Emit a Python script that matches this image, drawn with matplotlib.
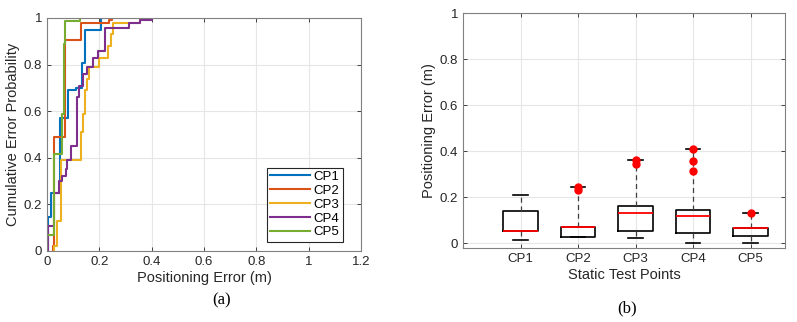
import matplotlib
matplotlib.use("Agg")
import matplotlib.pyplot as plt

plt.rcParams['font.family'] = ['Liberation Sans', 'DejaVu Sans']

# ---- (a) empirical CDF step points: error value at each jump, CDF level after jump
labels = ["CP1", "CP2", "CP3", "CP4", "CP5"]
colors = ["#0072BD", "#D95319", "#EDB120", "#7E2F8E", "#77AC30"]

cp1_x = [0.005, 0.014, 0.050, 0.081, 0.110, 0.133, 0.146, 0.206]
cp1_y = [0.148, 0.248, 0.570, 0.690, 0.700, 0.806, 0.950, 1.0]
cp2_x = [0.022, 0.027, 0.069, 0.130, 0.238, 0.250]
cp2_y = [0.020, 0.490, 0.906, 0.978, 0.990, 1.0]
cp3_x = [0.025, 0.040, 0.053, 0.130, 0.139, 0.146, 0.151, 0.159, 0.200, 0.232, 0.245, 0.252, 0.354]
cp3_y = [0.020, 0.130, 0.390, 0.510, 0.590, 0.690, 0.740, 0.790, 0.830, 0.878, 0.930, 0.977, 1.0]
cp4_x = [0.005, 0.027, 0.044, 0.059, 0.072, 0.078, 0.091, 0.113, 0.123, 0.136, 0.151, 0.174, 0.194, 0.223, 0.315, 0.354, 0.400]
cp4_y = [0.107, 0.250, 0.300, 0.320, 0.350, 0.390, 0.450, 0.660, 0.710, 0.760, 0.790, 0.830, 0.860, 0.957, 0.978, 0.990, 1.0]
cp5_x = [0.000, 0.027, 0.059, 0.063, 0.068, 0.125]
cp5_y = [0.069, 0.415, 0.590, 0.890, 0.985, 1.0]

cdf_x = [cp1_x, cp2_x, cp3_x, cp4_x, cp5_x]
cdf_y = [cp1_y, cp2_y, cp3_y, cp4_y, cp5_y]

# ---- (b) box statistics
box_q1 = [0.052, 0.029, 0.055, 0.043, 0.033]
box_med = [0.052, 0.072, 0.130, 0.117, 0.065]
box_q3 = [0.141, 0.072, 0.162, 0.144, 0.068]
box_lo = [0.013, 0.029, 0.023, 0.003, 0.000]
box_hi = [0.211, 0.246, 0.362, 0.409, 0.131]
box_fliers = [[], [0.245, 0.230], [0.362, 0.343], [0.409, 0.358, 0.315], [0.130]]

AX_COLOR = "#262626"
GRID_COLOR = "#e6e6e6"

fig = plt.figure(figsize=(7.97, 3.22), dpi=100)
ax1 = fig.add_axes([0.059, 0.2205, 0.394, 0.7236])
ax2 = fig.add_axes([0.581, 0.2298, 0.404, 0.7298])

# ========================================
# (a) CDF
# ========================================
for xs, ys, c, lab in zip(cdf_x, cdf_y, colors, labels):
    px = [xs[0]] + xs
    py = [0.0] + ys
    ax1.step(px, py, where="post", color=c, lw=1.5, label=lab)

ax1.set_xlim(0, 1.2)
ax1.set_ylim(0, 1)
ax1.set_xticks([0, 0.2, 0.4, 0.6, 0.8, 1.0, 1.2])
ax1.set_xticklabels(["0", "0.2", "0.4", "0.6", "0.8", "1", "1.2"])
ax1.set_yticks([0, 0.2, 0.4, 0.6, 0.8, 1.0])
ax1.set_yticklabels(["0", "0.2", "0.4", "0.6", "0.8", "1"])
ax1.set_xlabel("Positioning Error (m)", fontsize=10.5, color=AX_COLOR, labelpad=2)
ax1.set_ylabel("Cumulative Error Probability", fontsize=10.5, color=AX_COLOR, labelpad=3)
leg = ax1.legend(loc="lower right", fontsize=9.5, handlelength=3.0, handletextpad=0.3,
                 labelspacing=0.12, borderpad=0.25, borderaxespad=0.0, fancybox=False,
                 framealpha=1, bbox_to_anchor=(0.942, 0.04))
leg.get_frame().set_edgecolor(AX_COLOR)
leg.get_frame().set_linewidth(0.8)

# ========================================
# (b) boxplot
# ========================================
stats = []
for i, lab in enumerate(labels):
    stats.append(dict(label=lab, q1=box_q1[i], med=box_med[i], q3=box_q3[i],
                      whislo=box_lo[i], whishi=box_hi[i], fliers=box_fliers[i]))

ax2.bxp(stats, positions=[1, 2, 3, 4, 5], widths=0.6, capwidths=0.25,
        boxprops=dict(color="black", lw=1.2),
        medianprops=dict(color="red", lw=1.3),
        whiskerprops=dict(color="#404040", lw=0.9, linestyle=(0, (4, 3))),
        capprops=dict(color="black", lw=1.2),
        flierprops=dict(marker="o", markerfacecolor="red", markeredgecolor="red",
                        markersize=5))
ax2.set_xlim(0, 5.6)
ax2.set_ylim(-0.02, 1)
ax2.set_yticks([0, 0.2, 0.4, 0.6, 0.8, 1.0])
ax2.set_yticklabels(["0", "0.2", "0.4", "0.6", "0.8", "1"])
ax2.set_xticks([1, 2, 3, 4, 5])
ax2.set_xticklabels(labels)
ax2.set_xlabel("Static Test Points", fontsize=10.5, color=AX_COLOR, labelpad=2)
ax2.set_ylabel("Positioning Error (m)", fontsize=10.5, color=AX_COLOR, labelpad=3)

for ax in (ax1, ax2):
    ax.grid(True, color=GRID_COLOR, lw=0.8)
    ax.set_axisbelow(True)
    ax.tick_params(direction="in", length=3, width=0.6, labelsize=9.5,
                   colors=AX_COLOR, top=True, right=True)
    for s in ax.spines.values():
        s.set_color("#808080")
        s.set_linewidth(0.8)

fig.text(222 / 797, 1 - 300 / 322, "(a)", fontsize=12, family="Liberation Serif",
         ha="center", va="center")
fig.text(627 / 797, 1 - 308 / 322, "(b)", fontsize=12, family="Liberation Serif",
         ha="center", va="center")

fig.savefig("out.png", dpi=100)
